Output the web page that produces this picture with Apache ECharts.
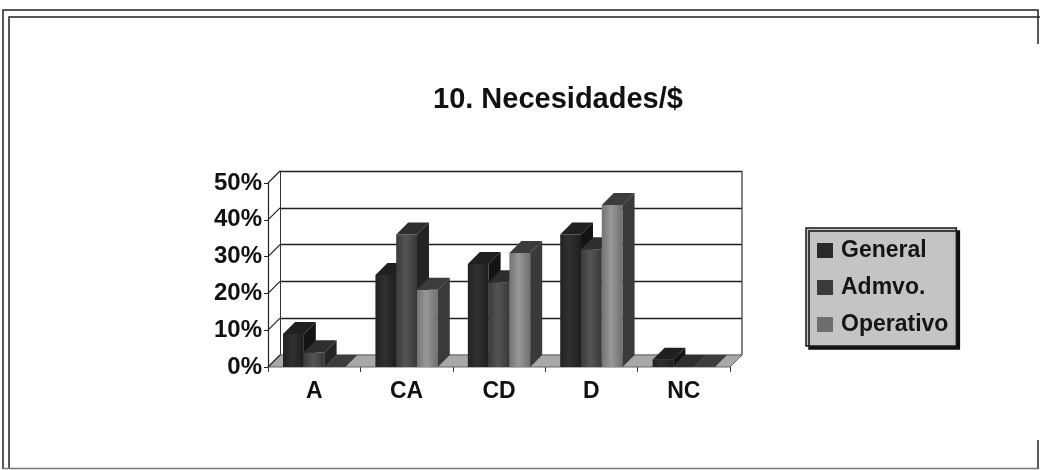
<!DOCTYPE html>
<html>
<head>
<meta charset="utf-8">
<script src="https://cdn.jsdelivr.net/npm/echarts@6/dist/echarts.min.js"></script>
<style>
  html, body { margin: 0; padding: 0; background: #ffffff; }
  #chart { width: 1040px; height: 470px; }
</style>
</head>
<body>
<div id="chart"></div>
<script>
// Survey answers per category, in percent
const categories = ['A', 'CA', 'CD', 'D', 'NC'];
const general    = [9, 25, 28, 36, 2];
const admvo      = [4, 36, 23, 32, 0];
const operativo  = [0, 21, 31, 44, 0];
const seriesNames = ['General', 'Admvo.', 'Operativo'];
const yTicks = [0, 10, 20, 30, 40, 50];

const FONT = "'Liberation Sans', Arial, Helvetica, sans-serif";
// oblique depth offset of the 3D box (pixels)
const DX = 12, DY = -12;
const BAR_FRAC = 0.225;

// front, side and top face colours per series
const faces = [
  { front: ['#222222', '#303030', '#1e1e1e'], side: '#141414', top: '#202020' },
  { front: ['#3a3a3a', '#555555', '#383838'], side: '#242424', top: '#2e2e2e' },
  { front: ['#747474', '#989898', '#707070'], side: '#3a3a3a', top: '#3c3c3c' }
];

function barRenderer(k) {
  const f = faces[k];
  return function (params, api) {
    const ci = api.value(0), v = api.value(1);
    const base = api.coord([ci, 0]);
    const top = api.coord([ci, v]);
    const cw = api.size([1, 0])[0];
    const bw = cw * BAR_FRAC;
    const x0 = base[0] + (k - 1.5) * bw;
    const x1 = x0 + bw;
    const yb = base[1], yt = top[1];
    const children = [];
    if (yb - yt > 0.5) {
      children.push({
        type: 'rect',
        shape: { x: x0, y: yt, width: bw, height: yb - yt },
        style: {
          fill: new echarts.graphic.LinearGradient(0, 0, 1, 0, [
            { offset: 0, color: f.front[0] },
            { offset: 0.45, color: f.front[1] },
            { offset: 1, color: f.front[2] }
          ])
        }
      });
      children.push({
        type: 'polygon',
        shape: { points: [[x1, yb], [x1 + DX, yb + DY], [x1 + DX, yt + DY], [x1, yt]] },
        style: { fill: f.side }
      });
    }
    children.push({
      type: 'polygon',
      shape: { points: [[x0, yt], [x1, yt], [x1 + DX, yt + DY], [x0 + DX, yt + DY]] },
      style: { fill: f.top }
    });
    return { type: 'group', children: children };
  };
}

// floor slab, left side-wall ticks and right edge of the back wall
function frameRenderer(params, api) {
  const cs = params.coordSys;
  const y0 = api.coord([0, yTicks[0]])[1];
  const yTop = api.coord([0, yTicks[yTicks.length - 1]])[1];
  const xl = cs.x, xr = cs.x + cs.width;
  const children = [];
  children.push({
    type: 'polygon',
    shape: { points: [[xl, y0], [xr, y0], [xr + DX, y0 + DY], [xl + DX, y0 + DY]] },
    style: { fill: '#a8a8a8', stroke: '#666', lineWidth: 1 }
  });
  yTicks.forEach(function (t) {
    const y = api.coord([0, t])[1];
    children.push({
      type: 'line',
      shape: { x1: xl, y1: y, x2: xl + DX, y2: y + DY },
      style: { stroke: '#222', lineWidth: 1.2 }
    });
  });
  children.push({
    type: 'line',
    shape: { x1: xr + DX, y1: yTop + DY, x2: xr + DX, y2: y0 + DY },
    style: { stroke: '#333', lineWidth: 1.2 }
  });
  return { type: 'group', children: children };
}

const chart = echarts.init(document.getElementById('chart'), null, { renderer: 'canvas' });

const valueRange = {
  type: 'value',
  min: yTicks[0],
  max: yTicks[yTicks.length - 1],
  interval: yTicks[1] - yTicks[0]
};

const seriesData = [general, admvo, operativo];

chart.setOption({
  backgroundColor: '#ffffff',
  animation: false,
  title: {
    text: '10. Necesidades/$',
    left: 428,
    top: 80,
    textStyle: { fontFamily: FONT, fontSize: 29, fontWeight: 'bold', color: '#111' }
  },
  legend: {
    orient: 'vertical',
    left: 806,
    top: 228,
    padding: [11, 8, 10, 11],
    itemWidth: 16,
    itemHeight: 15,
    itemGap: 14,
    icon: 'rect',
    backgroundColor: '#c4c4c4',
    borderColor: '#1a1a1a',
    borderWidth: 1.5,
    borderRadius: 0,
    shadowColor: '#111',
    shadowBlur: 0,
    shadowOffsetX: 3,
    shadowOffsetY: 3,
    data: seriesNames,
    textStyle: {
      fontFamily: FONT, fontSize: 23, fontWeight: 'bold', color: '#151515',
      lineHeight: 22, padding: [0, 0, 0, 3]
    }
  },
  grid: [
    { left: 268, top: 183, width: 462, height: 184 },
    { left: 280, top: 171, width: 462, height: 184 }
  ],
  xAxis: [
    {
      type: 'category', gridIndex: 0, data: categories,
      axisLine: { show: false },
      axisTick: { show: true, length: 5, lineStyle: { color: '#333' } },
      axisLabel: {
        margin: 13,
        fontFamily: FONT, fontSize: 23, fontWeight: 'bold', color: '#111'
      }
    },
    {
      type: 'category', gridIndex: 1, data: categories,
      axisLine: { show: false }, axisTick: { show: false }, axisLabel: { show: false }
    }
  ],
  yAxis: [
    Object.assign({}, valueRange, {
      gridIndex: 0,
      axisLine: { show: true, lineStyle: { color: '#222', width: 1.2 } },
      axisTick: { show: true, length: 4, inside: false, lineStyle: { color: '#222' } },
      splitLine: { show: false },
      axisLabel: {
        margin: 6,
        formatter: '{value}%',
        fontFamily: FONT, fontSize: 24, fontWeight: 'bold', color: '#111'
      }
    }),
    Object.assign({}, valueRange, {
      gridIndex: 1,
      axisLine: { show: true, lineStyle: { color: '#333', width: 1 } },
      axisTick: { show: false },
      axisLabel: { show: false },
      splitLine: { show: true, lineStyle: { color: '#1e1e1e', width: 1.3 } }
    })
  ],
  series: [
    {
      type: 'custom', name: '_frame', xAxisIndex: 0, yAxisIndex: 0, z: 1,
      silent: true, renderItem: frameRenderer, data: [[0, 0]],
      legendHoverLink: false
    }
  ].concat(seriesNames.map(function (name, k) {
    return {
      type: 'custom',
      name: name,
      xAxisIndex: 0, yAxisIndex: 0, z: 2 + k,
      itemStyle: { color: ['#2a2a2a', '#3a3a3a', '#6e6e6e'][k] },
      renderItem: barRenderer(k),
      encode: { x: 0, y: 1 },
      data: categories.map(function (c, i) { return [i, seriesData[k][i]]; })
    };
  })),
  graphic: [
    // double page frame
    { type: 'polyline', silent: true, shape: { points: [[3, 469], [3, 10], [1038, 10], [1038, 44]] }, style: { stroke: '#222', fill: null, lineWidth: 1.5 } },
    { type: 'polyline', silent: true, shape: { points: [[9, 469], [9, 17], [1040, 17]] }, style: { stroke: '#222', fill: null, lineWidth: 1.5 } },
    { type: 'line', silent: true, shape: { x1: 1038, y1: 440, x2: 1038, y2: 469 }, style: { stroke: '#222', lineWidth: 1.5 } },
    { type: 'line', silent: true, shape: { x1: 3, y1: 468.5, x2: 1038, y2: 468.5 }, style: { stroke: '#777', lineWidth: 1.5 } }
  ]
});
</script>
</body>
</html>
